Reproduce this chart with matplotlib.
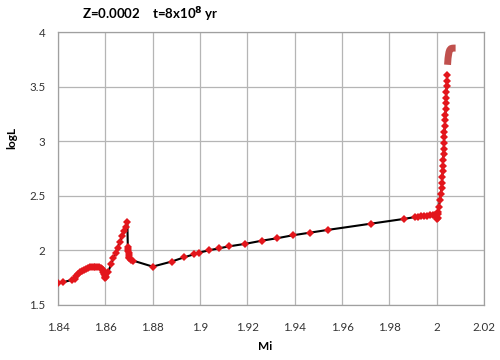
import matplotlib
matplotlib.use("Agg")
import matplotlib.pyplot as plt

plt.rcParams['font.family'] = ['Lato', 'DejaVu Sans']

# main track (black line with red markers)
mass = [1.8400, 1.8422, 1.8458,
        1.8470, 1.8478, 1.8486, 1.8494, 1.8502, 1.8510, 1.8518, 1.8526, 1.8534,
        1.8542, 1.8550, 1.8558, 1.8566, 1.8574, 1.8580, 1.8585, 1.8589, 1.8592,
        1.8595, 1.8597, 1.8599, 1.8600,
        1.8603, 1.8613, 1.8624, 1.8634, 1.8644, 1.8652, 1.8662, 1.8672, 1.8680,
        1.8687, 1.8693,
        1.8695, 1.8696, 1.8697, 1.8698, 1.8699, 1.8700, 1.8702, 1.8709, 1.8717,
        1.8800,
        1.8880, 1.8934, 1.8975, 1.8997, 1.9039, 1.9081, 1.9124, 1.9190,
        1.9263, 1.9326, 1.9392, 1.9465, 1.9539, 1.9721, 1.9862,
        1.9908, 1.9922, 1.9935, 1.9948, 1.9960, 1.9972, 1.9985, 1.9995,
        2.0000, 2.0003, 2.0004, 2.0005, 2.0007, 2.0009, 2.0014, 2.0018, 2.0021,
        2.0023,
        2.0024, 2.0025, 2.0026, 2.0027, 2.0029, 2.0030, 2.0031, 2.0032, 2.0033,
        2.0034, 2.0036, 2.0037, 2.0038, 2.0039, 2.0040, 2.0041, 2.0042, 2.0043,
        2.0045]
logL = [1.700, 1.708, 1.729,
        1.742, 1.764, 1.783, 1.799, 1.812, 1.823, 1.832, 1.839, 1.844,
        1.848, 1.850, 1.851, 1.850, 1.846, 1.839, 1.829, 1.817, 1.802,
        1.787, 1.772, 1.757, 1.745,
        1.754, 1.805, 1.873, 1.928, 1.979, 2.025, 2.080, 2.132, 2.180,
        2.217, 2.257,
        2.030, 2.013, 1.995, 1.976, 1.958, 1.940, 1.926, 1.915, 1.906,
        1.851,
        1.897, 1.937, 1.964, 1.979, 2.001, 2.019, 2.037, 2.059,
        2.089, 2.111, 2.138, 2.162, 2.187, 2.244, 2.288,
        2.305, 2.308, 2.311, 2.314, 2.317, 2.320, 2.322, 2.320,
        2.300, 2.287, 2.300, 2.330, 2.354, 2.400, 2.460, 2.520, 2.570,
        2.620,
        2.672, 2.724, 2.776, 2.828, 2.880, 2.932, 2.984, 3.036, 3.088,
        3.140, 3.192, 3.244, 3.296, 3.348, 3.400, 3.452, 3.504, 3.556,
        3.608]

# final segment (brownish thick)
mass_end = [2.0046, 2.0047, 2.0048, 2.0050, 2.0052, 2.0055, 2.0060, 2.0066,
            2.0073, 2.0080]
logL_end = [3.700, 3.730, 3.760, 3.790, 3.815, 3.835, 3.848, 3.852, 3.853,
            3.853]

xticks = [1.84, 1.86, 1.88, 1.90, 1.92, 1.94, 1.96, 1.98, 2.00, 2.02]
xticklabels = ['1.84', '1.86', '1.88', '1.9', '1.92', '1.94', '1.96', '1.98',
               '2', '2.02']
yticks = [1.5, 2.0, 2.5, 3.0, 3.5, 4.0]
yticklabels = ['1.5', '2', '2.5', '3', '3.5', '4']

fig = plt.figure(figsize=(5, 3.6), dpi=100)
ax = fig.add_axes([0.116, 0.153, 0.852, 0.758])

ax.plot(mass, logL, color='black', lw=1.5, zorder=3)
ax.plot(mass, logL, linestyle='none', marker='D', markersize=3.7,
        color='#e3161c', markeredgewidth=0, zorder=4)
ax.plot(mass_end, logL_end, color='#c0504d', lw=5, solid_capstyle='butt',
        zorder=5)

ax.set_xlim(1.84, 2.02)
ax.set_ylim(1.5, 4.0)
ax.set_xticks(xticks)
ax.set_xticklabels(xticklabels)
ax.set_yticks(yticks)
ax.set_yticklabels(yticklabels)
ax.tick_params(axis='both', length=0, labelsize=8.3, colors='#333333')
ax.tick_params(axis='x', pad=12)
ax.tick_params(axis='y', pad=9)
ax.grid(True, color='#b5b5b5', lw=0.9)
ax.set_axisbelow(True)
for s in ax.spines.values():
    s.set_color('#a0a0a0')
    s.set_linewidth(0.9)

fig.text(0.53, 1 - 347 / 360, 'Mi', ha='center', va='center',
         fontsize=8.5, fontweight='bold')
fig.text(12 / 500, 1 - 138 / 360, 'logL', ha='center', va='center',
         rotation=90, fontsize=8.5, fontweight='bold')
fig.text(82 / 500, 1 - 15 / 360, r'Z=0.0002    t=8x10$^{\mathbf{8}}$ yr',
         ha='left', va='center', fontsize=9.5, fontweight='bold')

fig.savefig('out.png', dpi=100)
